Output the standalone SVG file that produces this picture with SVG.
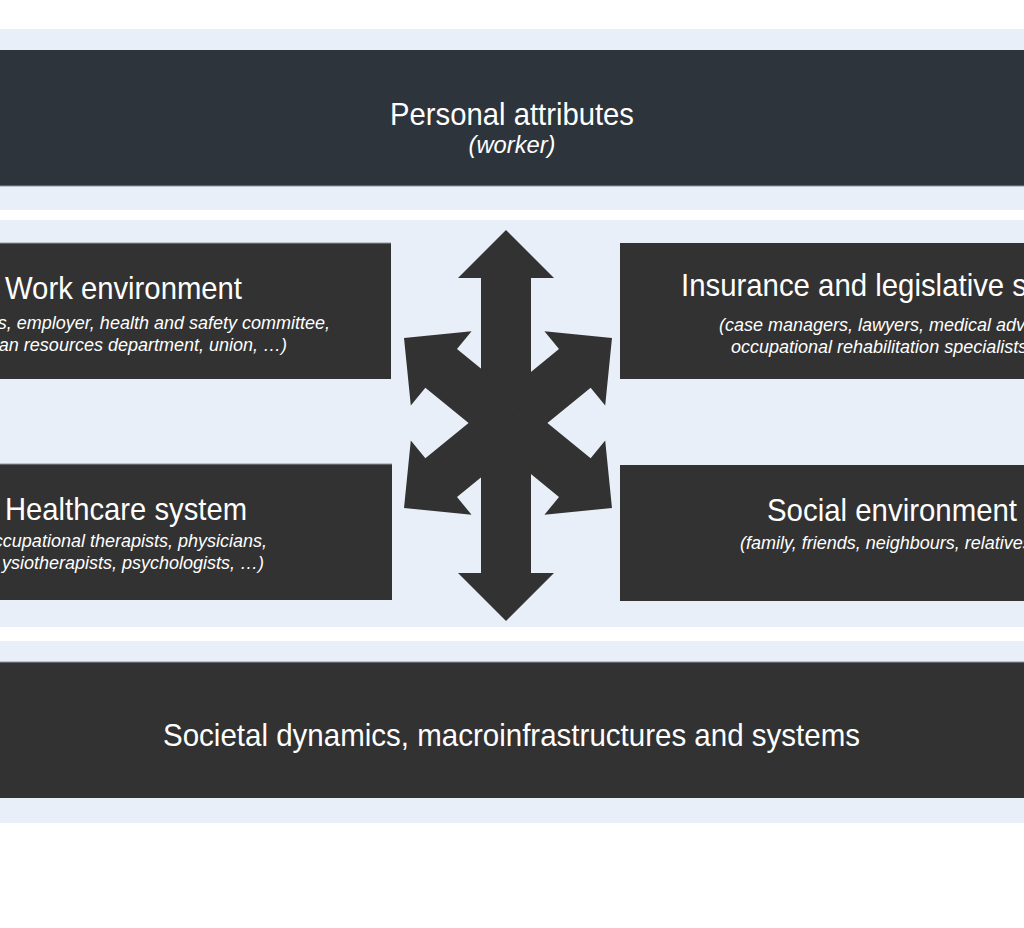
<svg xmlns="http://www.w3.org/2000/svg" width="1024" height="928" viewBox="0 0 1024 928">
  <style>
    .band { fill: #E8EFF8; }
    .box { fill: #323232; }
    .boxTop { fill: #2E343B; }
    .edge { stroke: #8E949C; stroke-width: 1; fill: none; }
    .title { font-family: "Liberation Sans", Arial, sans-serif; font-size: 32px; fill: #FFFFFF; }
    .sub { font-family: "Liberation Sans", Arial, sans-serif; font-size: 18px; font-style: italic; fill: #FFFFFF; }
    .arrow { fill: #323232; }
  </style>
  <defs>
    <polygon id="diag" points="0,-25 86.3,-25 86.3,-48 134.3,0 86.3,48 86.3,25 0,25"/>
  </defs>
  <rect x="0" y="0" width="1024" height="928" fill="#FFFFFF"/>

  <!-- bands -->
  <rect class="band" x="0" y="29" width="1024" height="181"/>
  <rect class="band" x="0" y="220" width="1024" height="407"/>
  <rect class="band" x="0" y="641" width="1024" height="182"/>

  <g id="personal">
    <rect class="boxTop" x="0" y="50" width="1024" height="136"/>
    <line class="edge" x1="0" y1="186" x2="1024" y2="186"/>
    <text class="title" x="512" y="125" text-anchor="middle" textLength="244" lengthAdjust="spacingAndGlyphs">Personal attributes</text>
    <text class="sub" x="512" y="153" text-anchor="middle" style="font-size:23px" textLength="87" lengthAdjust="spacingAndGlyphs">(worker)</text>
  </g>

  <g id="work">
    <rect class="box" x="0" y="243" width="391" height="136"/>
    <line class="edge" x1="0" y1="243" x2="391" y2="243"/>
    <text class="title" x="123.5" y="299" text-anchor="middle" textLength="237" lengthAdjust="spacingAndGlyphs">Work environment</text>
    <text class="sub" x="330" y="329" text-anchor="end">s, employer, health and safety committee,</text>
    <text class="sub" x="287" y="351" text-anchor="end">an resources department, union, …)</text>
  </g>

  <g id="insurance">
    <rect class="box" x="620" y="243" width="404" height="136"/>
    <text class="title" x="681" y="296" textLength="346" lengthAdjust="spacingAndGlyphs">Insurance and legislative s</text>
    <text class="sub" x="719" y="331">(case managers, lawyers, medical adv</text>
    <text class="sub" x="731" y="353">occupational rehabilitation specialists</text>
  </g>

  <g id="healthcare">
    <rect class="box" x="0" y="464" width="392" height="136"/>
    <line class="edge" x1="0" y1="464" x2="392" y2="464"/>
    <text class="title" x="126" y="520" text-anchor="middle" textLength="242" lengthAdjust="spacingAndGlyphs">Healthcare system</text>
    <text class="sub" x="267" y="547" text-anchor="end">ccupational therapists, physicians,</text>
    <text class="sub" x="264" y="569" text-anchor="end">ysiotherapists, psychologists, …)</text>
  </g>

  <g id="social">
    <rect class="box" x="620" y="465" width="404" height="136"/>
    <text class="title" x="892" y="521" text-anchor="middle" textLength="250" lengthAdjust="spacingAndGlyphs">Social environment</text>
    <text class="sub" x="740" y="549">(family, friends, neighbours, relatives</text>
  </g>

  <g id="societal">
    <rect class="box" x="0" y="662" width="1024" height="136"/>
    <line class="edge" x1="0" y1="662" x2="1024" y2="662"/>
    <text class="title" x="511.5" y="746" text-anchor="middle" textLength="697" lengthAdjust="spacingAndGlyphs">Societal dynamics, macroinfrastructures and systems</text>
  </g>

  <g id="connectors">
    <polygon class="arrow" points="506,230 554,278 531,278 531,573 554,573 506,621 458,573 481,573 481,278 458,278"/>
    <use href="#diag" class="arrow" transform="translate(508,423) rotate(-39.26)"/>
    <use href="#diag" class="arrow" transform="translate(508,423) rotate(-140.74)"/>
    <use href="#diag" class="arrow" transform="translate(508,423) rotate(39.26)"/>
    <use href="#diag" class="arrow" transform="translate(508,423) rotate(140.74)"/>
  </g>
</svg>
